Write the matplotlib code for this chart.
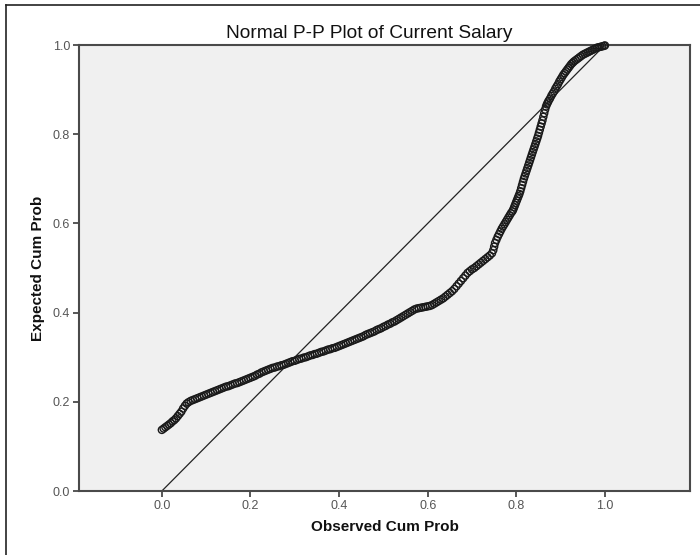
import matplotlib
matplotlib.use("Agg")
import matplotlib.pyplot as plt
from matplotlib.lines import Line2D

plt.rcParams['font.family'] = ['Liberation Sans', 'DejaVu Sans']

title = "Normal P-P Plot of Current Salary"
x_label = "Observed Cum Prob"
y_label = "Expected Cum Prob"
x_ticks = [0.0, 0.2, 0.4, 0.6, 0.8, 1.0]
y_ticks = [0.0, 0.2, 0.4, 0.6, 0.8, 1.0]
ref_line_x = [0.0, 1.0]
ref_line_y = [0.0, 1.0]

obs_cum_prob = [
    0.000, 0.004, 0.008, 0.012, 0.016, 0.020, 0.024, 0.028, 0.032, 0.036,
    0.040, 0.044, 0.048, 0.052, 0.056, 0.060,
    0.065, 0.070, 0.075, 0.080, 0.085, 0.090, 0.095, 0.100, 0.105, 0.110,
    0.115, 0.120, 0.125, 0.130, 0.135, 0.140, 0.145, 0.150, 0.155, 0.160,
    0.165, 0.170, 0.175, 0.180, 0.185, 0.190, 0.195, 0.200, 0.205, 0.210,
    0.215, 0.220, 0.225, 0.230, 0.235, 0.240, 0.245, 0.250, 0.255, 0.260,
    0.265, 0.270, 0.275, 0.280, 0.285, 0.290, 0.295, 0.300, 0.305, 0.310,
    0.315, 0.320, 0.325, 0.330, 0.335, 0.340, 0.345, 0.350, 0.355, 0.360,
    0.365, 0.370, 0.375, 0.380, 0.385, 0.390, 0.395, 0.400, 0.405, 0.410,
    0.415, 0.420, 0.425, 0.430, 0.435, 0.440, 0.445, 0.450, 0.455, 0.460,
    0.465, 0.470, 0.475, 0.480, 0.485, 0.490, 0.495, 0.500, 0.505, 0.510,
    0.515, 0.520, 0.525, 0.530, 0.535, 0.540, 0.545, 0.550, 0.555, 0.560,
    0.565, 0.570, 0.575, 0.580, 0.585, 0.590, 0.595, 0.600, 0.605, 0.610,
    0.615, 0.620, 0.625, 0.630, 0.635, 0.640, 0.645, 0.650, 0.655, 0.660,
    0.665, 0.670, 0.675, 0.680, 0.685, 0.690, 0.695, 0.700, 0.705, 0.710,
    0.715, 0.720, 0.725, 0.730, 0.735, 0.740, 0.745,
    0.748, 0.750, 0.752, 0.755, 0.758, 0.761, 0.764, 0.767, 0.770, 0.773,
    0.776, 0.779, 0.782, 0.785, 0.788, 0.791, 0.793, 0.795, 0.797, 0.799,
    0.801, 0.803, 0.805, 0.807, 0.809, 0.811, 0.813, 0.815, 0.817, 0.819,
    0.821, 0.823, 0.825, 0.827, 0.829, 0.831, 0.833, 0.835, 0.837, 0.839,
    0.841, 0.843, 0.845, 0.847, 0.849, 0.851, 0.853, 0.855, 0.857, 0.859,
    0.861, 0.863, 0.865, 0.867, 0.869, 0.871, 0.873, 0.876, 0.879, 0.882,
    0.885, 0.888, 0.891, 0.894, 0.897, 0.900, 0.903, 0.906, 0.909, 0.912,
    0.915, 0.918, 0.921, 0.924, 0.927, 0.930, 0.934, 0.938, 0.942, 0.946,
    0.950, 0.954, 0.958, 0.962, 0.966, 0.970, 0.974, 0.978, 0.982, 0.986,
    0.990, 0.994, 0.998, 1.000,
]

exp_cum_prob = [
    0.137, 0.140, 0.143, 0.146, 0.149, 0.152, 0.156, 0.159, 0.163, 0.168,
    0.173, 0.178, 0.185, 0.191, 0.196, 0.199,
    0.202, 0.204, 0.206, 0.208, 0.210, 0.212, 0.214, 0.216, 0.218, 0.220,
    0.222, 0.224, 0.226, 0.228, 0.230, 0.232, 0.234, 0.235, 0.237, 0.239,
    0.241, 0.242, 0.244, 0.246, 0.248, 0.250, 0.252, 0.254, 0.256, 0.258,
    0.261, 0.263, 0.266, 0.268, 0.270, 0.272, 0.274, 0.276, 0.277, 0.279,
    0.280, 0.282, 0.283, 0.285, 0.287, 0.289, 0.291, 0.292, 0.294, 0.296,
    0.297, 0.299, 0.300, 0.302, 0.304, 0.305, 0.307, 0.308, 0.310, 0.312,
    0.313, 0.315, 0.317, 0.318, 0.320, 0.321, 0.323, 0.325, 0.327, 0.329,
    0.331, 0.333, 0.335, 0.337, 0.339, 0.341, 0.343, 0.345, 0.347, 0.350,
    0.352, 0.354, 0.356, 0.358, 0.361, 0.363, 0.365, 0.368, 0.370, 0.373,
    0.375, 0.378, 0.380, 0.383, 0.386, 0.389, 0.392, 0.395, 0.398, 0.401,
    0.404, 0.407, 0.409, 0.410, 0.411, 0.412, 0.413, 0.414, 0.415, 0.417,
    0.420, 0.423, 0.426, 0.429, 0.432, 0.436, 0.440, 0.444, 0.448, 0.453,
    0.459, 0.465, 0.471, 0.477, 0.483, 0.489, 0.493, 0.497, 0.500, 0.504,
    0.508, 0.512, 0.516, 0.520, 0.524, 0.528, 0.533,
    0.540, 0.548, 0.556, 0.563, 0.570, 0.576, 0.582, 0.588, 0.593, 0.598,
    0.603, 0.608, 0.613, 0.618, 0.623, 0.627, 0.631, 0.636, 0.641, 0.646,
    0.651, 0.656, 0.661, 0.666, 0.672, 0.679, 0.686, 0.693, 0.700, 0.706,
    0.712, 0.718, 0.724, 0.730, 0.736, 0.742, 0.748, 0.754, 0.760, 0.766,
    0.772, 0.778, 0.784, 0.790, 0.796, 0.803, 0.810, 0.817, 0.824, 0.831,
    0.839, 0.847, 0.855, 0.862, 0.867, 0.871, 0.875, 0.880, 0.886, 0.891,
    0.896, 0.902, 0.907, 0.912, 0.918, 0.923, 0.928, 0.933, 0.937, 0.941,
    0.945, 0.949, 0.953, 0.957, 0.960, 0.963, 0.966, 0.969, 0.972, 0.975,
    0.978, 0.980, 0.982, 0.984, 0.986, 0.988, 0.990, 0.992, 0.994, 0.995,
    0.996, 0.997, 0.998, 0.999,
]

W, H = 700, 555
fig = plt.figure(figsize=(W / 100, H / 100), dpi=100, facecolor='white')

# axes placement (pixels)
ax_left, ax_right, ax_top, ax_bottom = 79, 690, 45, 491
ax = fig.add_axes([ax_left / W, 1 - ax_bottom / H,
                   (ax_right - ax_left) / W, (ax_bottom - ax_top) / H])
ax.set_facecolor('#f0f0f0')

ax.plot(ref_line_x, ref_line_y, color='#222222', linewidth=0.9, zorder=2)
ax.scatter(obs_cum_prob, exp_cum_prob, s=26, facecolors='none',
           edgecolors='#1a1a1a', linewidths=1.0, zorder=3, clip_on=False)

ax.set_xlim(-0.187, 1.192)
ax.set_ylim(0.0, 1.0)
ax.set_xticks(x_ticks)
ax.set_yticks(y_ticks)
ax.set_xticklabels([f"{t:.1f}" for t in x_ticks])
ax.set_yticklabels([f"{t:.1f}" for t in y_ticks])

for s in ax.spines.values():
    s.set_color('#4a4a4a')
    s.set_linewidth(1.5)
ax.tick_params(axis='both', direction='out', length=4.5, width=1.3,
               color='#4a4a4a', labelsize=9, labelcolor='#555555', pad=2)
ax.tick_params(top=False, right=False)

fig.text(369 / W, 1 - 33 / H, title, ha='center', va='center',
         fontsize=13.8, color='#111111')
fig.text((ax_left + ax_right) / 2 / W, 1 - 527 / H, x_label, ha='center',
         va='center', fontsize=11, fontweight='bold', color='#111111')
fig.text(38 / W, 1 - 268 / H, y_label, ha='center', va='center',
         rotation=90, fontsize=11, fontweight='bold', color='#111111')

# outer frame (left and top edges visible)
fig.add_artist(Line2D([6 / W, 6 / W], [0, 1 - 5 / H], transform=fig.transFigure,
                      color='#222222', linewidth=1.2))
fig.add_artist(Line2D([6 / W, 1], [1 - 5 / H, 1 - 5 / H], transform=fig.transFigure,
                      color='#222222', linewidth=1.2))

fig.savefig('out.png', dpi=100, facecolor='white')
